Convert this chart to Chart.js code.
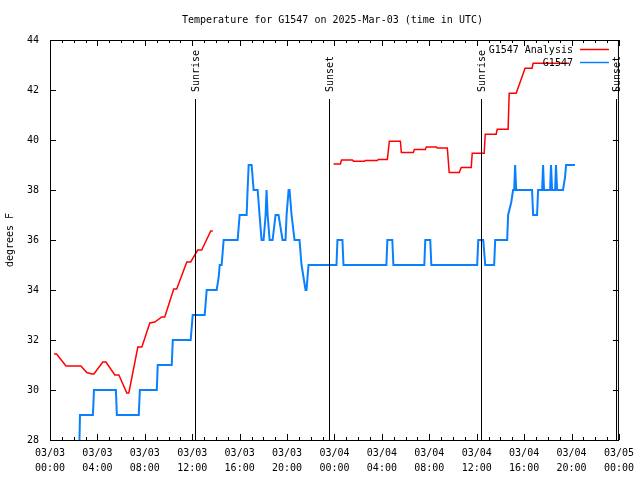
<!DOCTYPE html>
<html>
<head>
<meta charset="utf-8">
<script src="https://cdn.jsdelivr.net/npm/chart.js@4.4.1/dist/chart.umd.min.js"></script>
<style>
  html, body { margin: 0; padding: 0; background: #fff; }
  #wrap { width: 640px; height: 480px; }
</style>
</head>
<body>
<div id="wrap"><canvas id="chart" width="640" height="480"></canvas></div>
<script>
/* gnuplot-style temperature plot, hours since 03/03 00:00 UTC on the x axis */

const TITLE = 'Temperature for G1547 on 2025-Mar-03 (time in UTC)';
const FONT = '"DejaVu Sans Mono", "Liberation Mono", monospace';

// analysis series (null = gap in the record)
const analysisHours = [
  0.34, 0.55, 1.35, 2.61, 3.10, 3.54, 3.70, 4.46, 4.72, 5.47, 5.81, 6.48, 6.65,
  7.41, 7.75, 8.42, 8.84, 9.43, 9.68, 10.44, 10.69, 11.54, 11.87, 12.46, 12.80,
  13.56, 13.73,
  18.80,
  23.92, 24.50, 24.59, 25.52, 25.60, 26.53, 26.60, 27.62, 27.70, 28.46, 28.63,
  29.56, 29.64, 30.65, 30.74, 31.66, 31.75, 32.59, 32.67, 33.52, 33.68, 34.53,
  34.69, 35.54, 35.62, 36.63, 36.72, 37.64, 37.73, 38.65, 38.74, 39.33, 40.08,
  40.67, 40.76, 43.79,
];
const analysisTemps = [
  31.44, 31.44, 30.96, 30.96, 30.70, 30.64, 30.64, 31.12, 31.12, 30.60, 30.60, 29.88, 29.88,
  31.72, 31.72, 32.68, 32.72, 32.92, 32.92, 34.04, 34.04, 35.12, 35.12, 35.60, 35.60,
  36.36, 36.36,
  null,
  39.04, 39.04, 39.20, 39.20, 39.15, 39.15, 39.18, 39.18, 39.22, 39.22, 39.95,
  39.95, 39.50, 39.50, 39.62, 39.62, 39.72, 39.72, 39.68, 39.68, 38.70, 38.70,
  38.90, 38.90, 39.47, 39.47, 40.23, 40.23, 40.43, 40.43, 41.87, 41.87, 42.87,
  42.87, 43.07, 43.07,
];

// observed series
const obsHours = [
  2.44, 2.53, 3.62, 3.71, 5.56, 5.64, 7.49, 7.58, 9.01, 9.09, 10.27, 10.36,
  11.87, 12.04, 13.05, 13.22, 14.06, 14.23, 14.32, 14.48, 14.65, 15.83, 16.00,
  16.59, 16.67, 16.76, 17.01, 17.18, 17.52, 17.68, 17.85, 18.02, 18.19, 18.27,
  18.36, 18.53, 18.78, 19.03, 19.28, 19.45, 19.62, 19.87, 19.96, 20.13, 20.21,
  20.38, 20.63, 21.05, 21.22, 21.39, 21.56, 21.64, 21.81, 24.17, 24.25, 24.67,
  24.76, 28.38, 28.46, 28.88, 28.97, 31.58, 31.66, 32.08, 32.17, 36.04, 36.13,
  36.55, 36.72, 37.47, 37.56, 38.57, 38.65, 38.91, 39.07, 39.16, 39.24, 39.33,
  40.67, 40.76, 41.09, 41.18, 41.52, 41.60, 41.68, 42.19, 42.27, 42.36, 42.61,
  42.69, 42.78, 43.28, 43.45, 43.54, 44.29,
];
const obsTemps = [
  27, 29, 29, 30, 30, 29, 29, 30, 30, 31, 31, 32,
  32, 33, 33, 34, 34, 34.5, 35, 35, 36, 36, 37,
  37, 38, 39, 39, 38, 38, 37, 36, 36, 37, 38,
  37, 36, 36, 37, 37, 36.5, 36, 36, 37, 38, 38,
  37, 36, 36, 35, 34.5, 34, 34, 35, 35, 36, 36,
  35, 35, 36, 36, 35, 35, 36, 36, 35, 35, 36,
  36, 35, 35, 36, 36, 37, 37.5, 38, 38, 39, 38,
  38, 37, 37, 38, 38, 39, 38, 38, 39, 38, 38,
  39, 38, 38, 38.5, 39, 39,
];

// sun events, hours since start
const sunHours = [12.21, 23.58, 36.38, 47.75];
const sunNames = ['Sunrise', 'Sunset', 'Sunrise', 'Sunset'];

// x tick labels every 4 hours
const xTickDates = ['03/03', '03/03', '03/03', '03/03', '03/03', '03/03', '03/04', '03/04', '03/04', '03/04', '03/04', '03/04', '03/05'];
const xTickTimes = ['00:00', '04:00', '08:00', '12:00', '16:00', '20:00', '00:00', '04:00', '08:00', '12:00', '16:00', '20:00', '00:00'];

const toPoints = (xs, ys) => xs.map((x, i) => ({ x, y: ys[i] }));

/* frame, inward ticks, sun lines, legend and title, drawn the gnuplot way */
const gnuplotFrame = {
  id: 'gnuplotFrame',
  afterDraw(chart) {
    const { ctx, chartArea: a, scales } = chart;
    const xs = scales.x, ys = scales.y;
    ctx.save();
    ctx.strokeStyle = '#000';
    ctx.lineWidth = 1;
    ctx.strokeRect(a.left + 0.5, a.top + 0.5, a.right - a.left - 1, a.bottom - a.top);

    // hourly ticks, longer every 4h
    ctx.beginPath();
    for (let h = 0; h <= 48; h++) {
      const px = Math.round(xs.getPixelForValue(h)) + 0.5;
      const len = h % 4 === 0 ? 6 : 3;
      ctx.moveTo(px, a.bottom); ctx.lineTo(px, a.bottom - len);
      ctx.moveTo(px, a.top); ctx.lineTo(px, a.top + len);
    }
    for (let t = 28; t <= 44; t += 2) {
      const py = Math.round(ys.getPixelForValue(t)) + 0.5;
      ctx.moveTo(a.left, py); ctx.lineTo(a.left + 6, py);
      ctx.moveTo(a.right, py); ctx.lineTo(a.right - 6, py);
    }
    ctx.stroke();

    // sunrise / sunset markers
    ctx.font = '10px ' + FONT;
    ctx.fillStyle = '#000';
    sunHours.forEach((h, i) => {
      const px = Math.round(xs.getPixelForValue(h)) + 0.5;
      ctx.beginPath();
      ctx.moveTo(px, a.top + 59);
      ctx.lineTo(px, a.bottom);
      ctx.stroke();
      ctx.save();
      ctx.translate(px + 1, a.top + 52);
      ctx.rotate(-Math.PI / 2);
      ctx.textAlign = 'left';
      ctx.textBaseline = 'middle';
      ctx.fillText(sunNames[i], 0, 0);
      ctx.restore();
    });

    // legend: text right-aligned, line sample to its right
    ctx.textAlign = 'right';
    ctx.textBaseline = 'middle';
    chart.data.datasets.forEach((ds, i) => {
      const y = a.top + 10 + i * 13;
      ctx.fillStyle = '#000';
      ctx.fillText(ds.label, a.right - 46, y);
      ctx.strokeStyle = ds.borderColor;
      ctx.lineWidth = 1.5;
      ctx.beginPath();
      ctx.moveTo(a.right - 39, y - 0.5);
      ctx.lineTo(a.right - 10, y - 0.5);
      ctx.stroke();
    });

    // title, centred over the plot area
    ctx.fillStyle = '#000';
    ctx.textAlign = 'center';
    ctx.fillText(TITLE, (a.left + a.right) / 2 - 2, 20);
    ctx.restore();
  },
};

new Chart(document.getElementById('chart'), {
  type: 'line',
  data: {
    datasets: [
      {
        label: 'G1547 Analysis',
        data: toPoints(analysisHours, analysisTemps),
        borderColor: '#ff0000',
        borderWidth: 1.5,
        pointRadius: 0,
        tension: 0,
        spanGaps: false,
      },
      {
        label: 'G1547',
        data: toPoints(obsHours, obsTemps),
        borderColor: '#0a80ff',
        borderWidth: 2,
        pointRadius: 0,
        tension: 0,
      },
    ],
  },
  options: {
    responsive: false,
    animation: false,
    devicePixelRatio: 1,
    layout: { padding: { top: 40, right: 20, left: 0, bottom: 0 } },
    plugins: {
      legend: { display: false },
      title: { display: false },
      tooltip: { enabled: false },
    },
    scales: {
      x: {
        type: 'linear',
        min: 0,
        max: 48,
        afterFit: s => { s.height = 40; },
        afterBuildTicks: s => { s.ticks = xTickDates.map((_, i) => ({ value: i * 4 })); },
        grid: { display: false, drawTicks: false },
        border: { display: false },
        ticks: {
          autoSkip: false,
          maxRotation: 0,
          padding: 6,
          color: '#000',
          font: { family: FONT, size: 10, lineHeight: 1.5 },
          callback: (v, i) => [xTickDates[i], xTickTimes[i]],
        },
      },
      y: {
        min: 28,
        max: 44,
        afterFit: s => { s.width = 50; },
        grid: { display: false, drawTicks: false },
        border: { display: false },
        ticks: {
          stepSize: 2,
          padding: 11,
          color: '#000',
          font: { family: FONT, size: 10 },
        },
        title: {
          display: true,
          text: 'degrees F',
          color: '#000',
          padding: { top: 4, bottom: 0 },
          font: { family: FONT, size: 10 },
        },
      },
    },
  },
  plugins: [gnuplotFrame],
});
</script>
</body>
</html>
